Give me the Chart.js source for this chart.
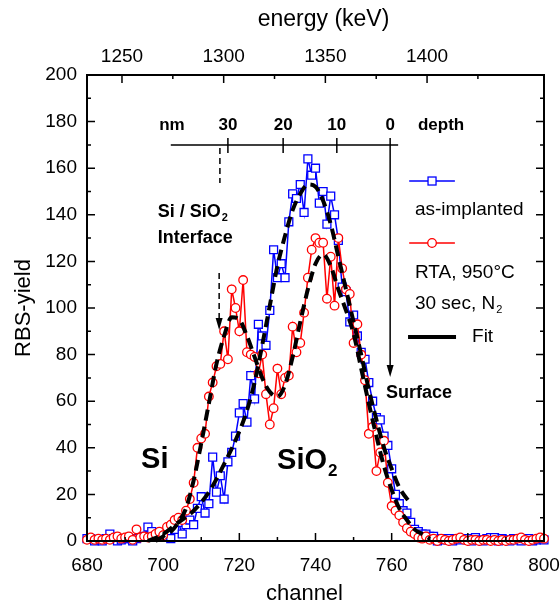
<!DOCTYPE html>
<html>
<head>
<meta charset="utf-8">
<script src="https://cdn.jsdelivr.net/npm/chart.js@4.4.1/dist/chart.umd.min.js"></script>
<style>
  body { margin: 0; background: #fff; }
  canvas { display: block; }
</style>
</head>
<body>
<canvas id="rbs-chart" width="560" height="605"></canvas>
<script>
// channel of the first point, one point per channel
const firstChannel = 680;

const asImplanted = [
    1, 1, 0, 0.5, 0, 1, 3, 1, 0, 0.5,
    1, 1, 0, 1, 1.5, 2, 6, 4, 2, 3,
    2, 3, 1, 5, 8, 3, 7, 9, 7, 14,
    19, 12, 16, 36, 21, 28, 18, 34, 38, 45,
    55, 59, 51, 71, 61, 93, 88, 84, 99, 125,
    113, 119, 113, 137, 149, 147, 153, 141, 164, 157,
    160, 145, 150, 136, 148, 140, 129, 109, 107, 94,
    97, 88, 81, 78, 68, 60, 53, 52, 45, 41,
    31, 20, 16, 13, 12, 8, 5, 4, 3, 3,
    2, 2, 0, 1, 0.5, 1, 0, 1, 0.5, 1,
    1, 0, 1.5, 0.5, 0, 1, 1.5, 1.5, 0, 1,
    0.5, 0, 1, 0.5, 0, 1, 1, 0, 0.5, 1, 0.5
];

const rta = [
    0.5, 1.5, 0.5, 1, 0.5, 1, 0.5, 1.5, 2, 1,
    1.5, 2, 0.5, 5, 1.5, 2, 1.5, 2, 3, 4,
    2.5, 6, 7, 9, 10, 9, 13, 18, 25, 40,
    44, 46, 62, 68, 75, 76, 90, 78, 108, 100,
    90, 112, 81, 80, 79, 72, 80, 63, 50, 57,
    74, 63, 70, 71, 92, 81, 85, 98, 113, 125,
    130, 128, 128, 104, 122, 101, 130, 117, 108, 106,
    85, 93, 80, 69, 46, 49, 30, 38, 43, 25,
    15, 13, 11, 8, 5.5, 4, 3, 1.5, 1, 2,
    0.5, 1, 0, 1, 0.5, 0, 0.5, 1, 1.5, 0.5,
    0, 0.5, 0.5, 0, 0.5, 0.5, 0, 0.5, 0, 0.5,
    0, 0.5, 0.5, 1, 1.5, 0.5, 0, 0.5, 1, 1.5, 1
];

const fitImplantChannels = [696, 700, 704, 708, 712, 716, 720, 722, 724, 726, 728, 730, 732, 734, 736, 738, 740, 742, 744, 746, 748, 750, 752, 754, 756, 758, 760, 762, 765];
const fitImplantValues   = [0, 3, 8, 13, 21, 33, 47, 56, 68, 84, 101, 118, 131, 142, 149, 153, 152, 146, 136, 122, 108, 94, 80, 65, 52, 40, 31, 23, 16];

const fitRtaChannels = [698, 700, 702, 704, 706, 708, 710, 712, 714, 716, 718, 720, 722, 724, 726, 728, 730, 732, 734, 736, 738, 740, 742, 744, 746, 748, 750, 752, 754, 756, 758, 760, 762, 764, 766, 768, 770];
const fitRtaValues   = [0, 2, 4, 8, 14, 26, 42, 59, 76, 88, 96, 95, 88, 79, 70, 64, 62, 67, 79, 94, 108, 119, 123, 118, 108, 99, 89, 74, 59, 45, 32, 22, 14, 9, 5, 3, 1];

// top axis
const energyTicks = [1250, 1300, 1350, 1400];
const energyMinorTicks = [1275, 1325, 1375, 1425];
const energyRange = [1232.8, 1457.5];

// depth scale drawn inside the plot (nm -> channel)
const depthLabels = ['30', '20', '10', '0'];
const depthChannels = [717.0, 731.5, 745.6, 759.6];

const FONT = '"Liberation Sans", Arial, sans-serif';
const BLUE = '#0000ff';
const RED = '#ff0000';

function toPoints(values) {
    return values.map((v, i) => ({ x: firstChannel + i, y: v }));
}
function pairPoints(xs, ys) {
    return xs.map((x, i) => ({ x: x, y: ys[i] }));
}

function textWithSub(ctx, main, sub, x, y, size, bold) {
    const w = bold ? 'bold ' : '';
    ctx.font = w + size + 'px ' + FONT;
    ctx.fillText(main, x, y);
    const mw = ctx.measureText(main).width;
    ctx.font = w + Math.round(size * 0.6) + 'px ' + FONT;
    ctx.fillText(sub, x + mw + 1, y + size * 0.35);
}

function arrowHead(ctx, x, yTip) {
    ctx.beginPath();
    ctx.moveTo(x, yTip);
    ctx.lineTo(x - 3.5, yTip - 12);
    ctx.lineTo(x + 3.5, yTip - 12);
    ctx.closePath();
    ctx.fill();
}

const decorations = {
    id: 'decorations',
    afterDraw(chart) {
        const ctx = chart.ctx;
        const { left, right, top, bottom } = chart.chartArea;
        const sx = chart.scales.x, sy = chart.scales.y, st = chart.scales.xTop;
        const X = v => sx.getPixelForValue(v);
        const Y = v => sy.getPixelForValue(v);
        ctx.save();
        ctx.strokeStyle = '#000';
        ctx.fillStyle = '#000';

        // inward ticks
        ctx.lineWidth = 1.5;
        ctx.beginPath();
        for (let c = 680; c <= 800; c += 10) {
            const p = X(c), len = c % 20 === 0 ? 8 : 4;
            ctx.moveTo(p, bottom); ctx.lineTo(p, bottom - len);
        }
        for (let v = 0; v <= 200; v += 10) {
            const p = Y(v), len = v % 20 === 0 ? 8 : 4;
            ctx.moveTo(left, p); ctx.lineTo(left + len, p);
            ctx.moveTo(right, p); ctx.lineTo(right - len, p);
        }
        energyTicks.forEach(e => { const p = st.getPixelForValue(e); ctx.moveTo(p, top); ctx.lineTo(p, top + 8); });
        energyMinorTicks.forEach(e => { const p = st.getPixelForValue(e); ctx.moveTo(p, top); ctx.lineTo(p, top + 4); });
        ctx.stroke();

        // frame
        ctx.lineWidth = 2;
        ctx.strokeRect(left, top, right - left, bottom - top);

        // axis titles for the two horizontal axes
        ctx.textBaseline = 'middle';
        ctx.textAlign = 'center';
        ctx.font = '22px ' + FONT;
        ctx.fillText('channel', X(737.1), 594);
        ctx.font = '23px ' + FONT;
        ctx.fillText('energy (keV)', X(742.1), 20);

        // depth scale
        ctx.lineWidth = 1.5;
        const yd = Y(170);
        ctx.beginPath();
        ctx.moveTo(X(702.0), yd); ctx.lineTo(X(761.7), yd);
        depthChannels.forEach((c, i) => {
            ctx.moveTo(X(c), yd - 7);
            ctx.lineTo(X(c), i === depthChannels.length - 1 ? Y(70.4) - 10 : yd + 8);
        });
        ctx.stroke();
        arrowHead(ctx, X(depthChannels[3]), Y(70.4));

        ctx.font = 'bold 17px ' + FONT;
        ctx.fillText('nm', X(702.3), Y(178.5));
        depthLabels.forEach((t, i) => ctx.fillText(t, X(depthChannels[i]), Y(178.5)));
        ctx.textAlign = 'left';
        ctx.fillText('depth', X(766.9), Y(178.5));

        // interface marker
        ctx.setLineDash([6, 4]);
        ctx.beginPath();
        ctx.moveTo(X(714.9), Y(168.7)); ctx.lineTo(X(714.9), Y(153.6));
        ctx.moveTo(X(714.7), Y(115)); ctx.lineTo(X(714.7), Y(90.6) - 10);
        ctx.stroke();
        ctx.setLineDash([]);
        arrowHead(ctx, X(714.7), Y(90.6));

        textWithSub(ctx, 'Si / SiO', '2', X(698.6), Y(141.2), 18, true);
        ctx.font = 'bold 18px ' + FONT;
        ctx.fillText('Interface', X(698.6), Y(130));
        ctx.fillText('Surface', X(758.5), Y(63.5));

        ctx.font = 'bold 29px ' + FONT;
        ctx.fillText('Si', X(694.2), Y(34.8));
        textWithSub(ctx, 'SiO', '2', X(729.9), Y(34.3), 29, true);

        // legend
        const lx0 = X(764.6), lx1 = X(776.6), lm = X(770.6);
        ctx.lineWidth = 1.5;
        ctx.strokeStyle = BLUE;
        ctx.beginPath(); ctx.moveTo(lx0, Y(154.5)); ctx.lineTo(lx1, Y(154.5)); ctx.stroke();
        ctx.fillStyle = '#fff';
        ctx.fillRect(lm - 4, Y(154.5) - 4, 8, 8);
        ctx.lineWidth = 1.3;
        ctx.strokeRect(lm - 4, Y(154.5) - 4, 8, 8);

        ctx.lineWidth = 1.5;
        ctx.strokeStyle = RED;
        ctx.beginPath(); ctx.moveTo(lx0, Y(127.9)); ctx.lineTo(lx1, Y(127.9)); ctx.stroke();
        ctx.beginPath(); ctx.arc(lm, Y(127.9), 4.3, 0, Math.PI * 2); ctx.fill();
        ctx.lineWidth = 1.3; ctx.stroke();

        ctx.strokeStyle = '#000';
        ctx.lineWidth = 4;
        ctx.beginPath(); ctx.moveTo(X(764.3), Y(87.6)); ctx.lineTo(X(776.9), Y(87.6)); ctx.stroke();

        ctx.fillStyle = '#000';
        ctx.font = '19px ' + FONT;
        ctx.fillText('as-implanted', X(766.1), Y(142));
        ctx.fillText('RTA, 950\u00B0C', X(766.1), Y(115));
        textWithSub(ctx, '30 sec, N', '2', X(766.1), Y(102), 19, false);
        ctx.font = '19px ' + FONT;
        ctx.fillText('Fit', X(781.1), Y(87.6));

        ctx.restore();
    }
};

const tickFont = { family: FONT, size: 19 };
const titleFont = { family: FONT, size: 22, lineHeight: 1 };
const plainLabel = v => String(v);
// fixed box sizes so the plot area sits where the original one does
const fixHorizontal = h => s => { s.height = h; s.paddingLeft = 0; s.paddingRight = 16; };

new Chart(document.getElementById('rbs-chart'), {
    type: 'line',
    data: {
        datasets: [
            {
                label: 'Fit (as-implanted)',
                data: pairPoints(fitImplantChannels, fitImplantValues),
                borderColor: '#000', borderWidth: 4, borderDash: [11, 6],
                pointRadius: 0, tension: 0.4, cubicInterpolationMode: 'monotone',
                fill: false, order: 0, clip: false
            },
            {
                label: 'Fit (RTA)',
                data: pairPoints(fitRtaChannels, fitRtaValues),
                borderColor: '#000', borderWidth: 4, borderDash: [11, 6],
                pointRadius: 0, tension: 0.4, cubicInterpolationMode: 'monotone',
                fill: false, order: 0, clip: false
            },
            {
                label: 'RTA, 950°C 30 sec, N2',
                data: toPoints(rta),
                borderColor: RED, borderWidth: 1.5,
                pointStyle: 'circle', pointRadius: 4.3, pointBorderWidth: 1.3,
                pointBackgroundColor: '#fff', pointBorderColor: RED,
                fill: false, order: 1, clip: false
            },
            {
                label: 'as-implanted',
                data: toPoints(asImplanted),
                borderColor: BLUE, borderWidth: 1.5,
                pointStyle: 'rect', pointRadius: 5.6, pointBorderWidth: 1.3,
                pointBackgroundColor: '#fff', pointBorderColor: BLUE,
                fill: false, order: 2, clip: false
            }
        ]
    },
    options: {
        responsive: false,
        animation: false,
        devicePixelRatio: 1,
        layout: { padding: 0 },
        plugins: { legend: { display: false }, tooltip: { enabled: false } },
        scales: {
            x: {
                type: 'linear', position: 'bottom', min: 680, max: 800,
                grid: { display: false, drawTicks: false }, border: { display: false },
                ticks: { stepSize: 20, font: tickFont, color: '#000', padding: 13, maxRotation: 0, callback: plainLabel },
                afterFit: fixHorizontal(64)
            },
            xTop: {
                type: 'linear', axis: 'x', position: 'top', min: energyRange[0], max: energyRange[1],
                grid: { display: false, drawTicks: false }, border: { display: false },
                ticks: { font: tickFont, color: '#000', padding: 7, maxRotation: 0, callback: plainLabel },
                afterBuildTicks: s => { s.ticks = energyTicks.map(v => ({ value: v })); },
                afterFit: fixHorizontal(75)
            },
            y: {
                type: 'linear', position: 'left', min: 0, max: 200,
                grid: { display: false, drawTicks: false }, border: { display: false },
                ticks: { stepSize: 20, font: tickFont, color: '#000', padding: 10, callback: plainLabel },
                title: { display: true, text: 'RBS-yield', font: titleFont, color: '#000', padding: { top: 13, bottom: 0 } },
                afterFit: s => { s.width = 87; s.paddingTop = 0; s.paddingBottom = 0; }
            }
        }
    },
    plugins: [decorations]
});
</script>
</body>
</html>
